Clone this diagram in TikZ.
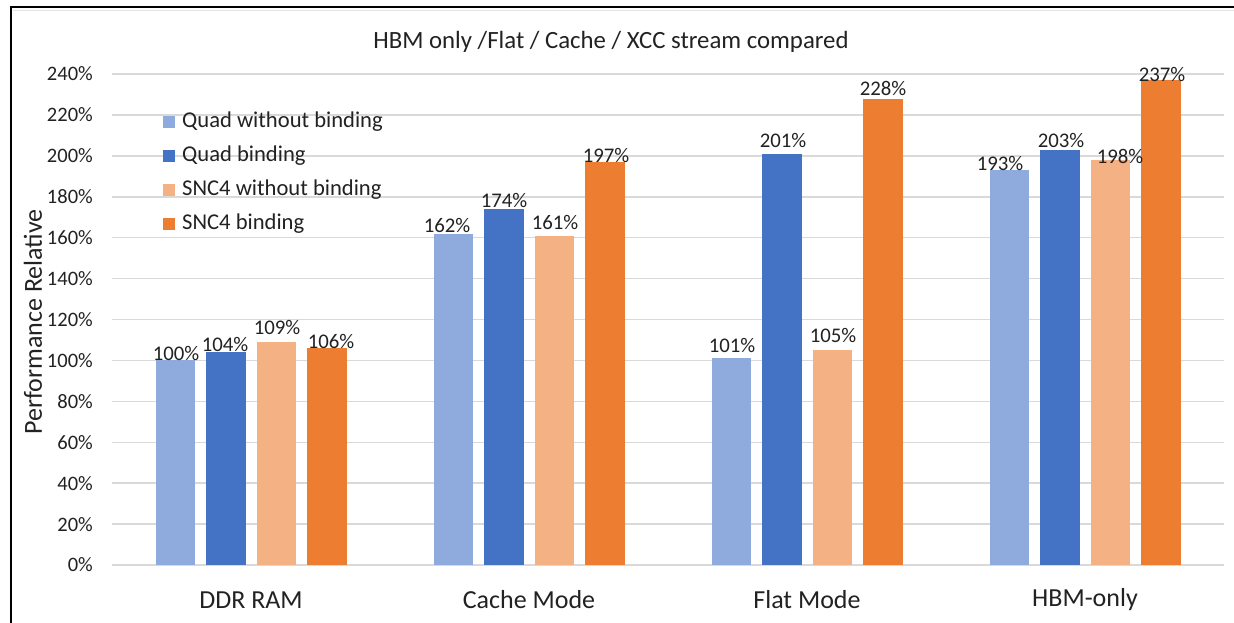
\documentclass[tikz,border=0pt]{standalone}
\usepackage{fontspec}
\setmainfont{Carlito}
\definecolor{qlight}{HTML}{8FAADC}
\definecolor{qdark}{HTML}{4472C4}
\definecolor{slight}{HTML}{F4B183}
\definecolor{sdark}{HTML}{ED7D31}
\definecolor{gridgray}{HTML}{D9D9D9}
\definecolor{ink}{HTML}{222222}
\tikzset{
  gridline/.style={draw=gridgray, line width=1.5pt},
  ticklabel/.style={anchor=east, inner sep=0pt, text=ink, font=\fontsize{20.5}{24}\selectfont},
  vallabel/.style={inner sep=0pt, text=ink, font=\fontsize{20.8}{24}\selectfont},
  catlabel/.style={inner sep=0pt, text=ink, font=\fontsize{26}{30}\selectfont},
  legtext/.style={anchor=west, inner sep=0pt, text=ink, font=\fontsize{22.6}{26}\selectfont},
  legkey/.style={minimum size=12pt, inner sep=0pt},
}
\begin{document}
\begin{tikzpicture}[x=1pt, y=-1pt]
\useasboundingbox (0,0) rectangle (1234,622);
\fill[white] (0,0) rectangle (1234,622);

% chart frame (left and top edges)
\draw[gridgray!70, line width=1.2pt] (13,10.5) -- (1234,10.5);
\draw[black, line width=2.6pt] (11,630) -- (11,7) -- (1240,7);

% title
\node[text=ink, inner sep=0pt, font=\fontsize{24.8}{29}\selectfont] (title) at (611,42) {HBM only /Flat / Cache / XCC stream compared};

% horizontal gridlines and value axis
\foreach \v in {0,20,...,240} {
  \draw[gridline] (112,{565-\v*2.04583}) -- (1224,{565-\v*2.04583});
  \node[ticklabel] (tick\v) at (93,{565-\v*2.04583}) {\v\%};
}

% bars: one series per colour, four categories each
\foreach \col/\off/\vals in {qlight/-75.75/{100,162,101,193},
                             qdark/-25.25/{104,174,201,203},
                             slight/25.25/{109,161,105,198},
                             sdark/75.75/{106,197,228,237}} {
  \foreach \v [count=\i from 0] in \vals {
    \fill[\col] ({251+278*\i+\off-19.75},565) rectangle ++(39.5,{-\v*2.04583});
  }
}

% data labels
\node[vallabel] (d11) at (176,353) {100\%};
\node[vallabel] (d12) at (225,344) {104\%};
\node[vallabel] (d13) at (277,327) {109\%};
\node[vallabel] (d14) at (331,341) {106\%};
\node[vallabel] (d21) at (447,225) {162\%};
\node[vallabel] (d22) at (504,200) {174\%};
\node[vallabel] (d23) at (555,222) {161\%};
\node[vallabel] (d24) at (606,155) {197\%};
\node[vallabel] (d31) at (732,345) {101\%};
\node[vallabel] (d32) at (783,140) {201\%};
\node[vallabel] (d33) at (833,335) {105\%};
\node[vallabel] (d34) at (883,88) {228\%};
\node[vallabel] (d41) at (1000,163) {193\%};
\node[vallabel] (d42) at (1061,140) {203\%};
\node[vallabel] (d43) at (1120,156) {198\%};
\node[vallabel] (d44) at (1162,74) {237\%};

% category labels
\node[catlabel] (c1) at (251,600) {DDR RAM};
\node[catlabel] (c2) at (529,600) {Cache Mode};
\node[catlabel] (c3) at (807,600) {Flat Mode};
\node[catlabel] (c4) at (1085,600) {HBM-only};

% value axis title
\node[catlabel, rotate=90] (ytitle) at (33,322) {Performance Relative};

% legend
\foreach \col/\txt [count=\r from 0] in {qlight/Quad without binding,
                                         qdark/Quad binding,
                                         slight/SNC4 without binding,
                                         sdark/SNC4 binding} {
  \node[legkey, fill=\col] (key\r) at (169,{122+34*\r}) {};
  \node[legtext] (leg\r) at (182,{122+34*\r}) {\txt};
}
\end{tikzpicture}
\end{document}
